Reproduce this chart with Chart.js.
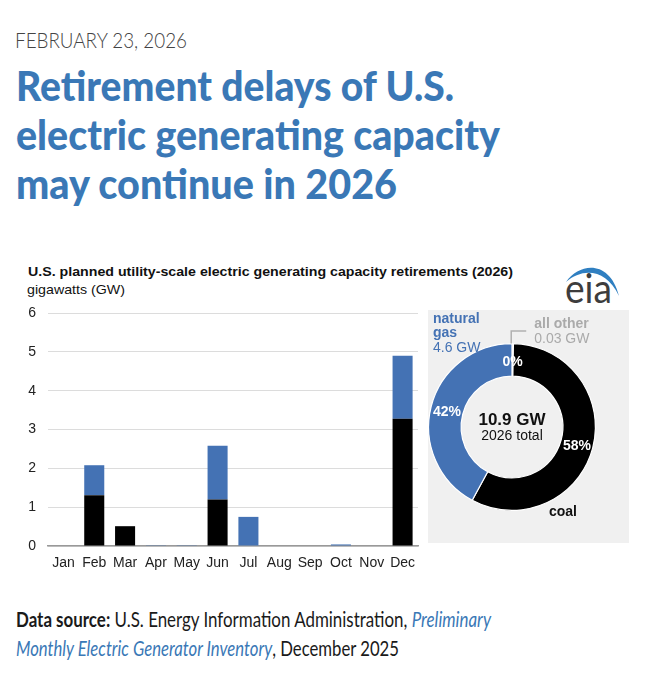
<!DOCTYPE html>
<html><head><meta charset="utf-8">
<script src="https://cdn.jsdelivr.net/npm/chart.js@4.4.1/dist/chart.umd.min.js"></script>
<style>
html,body{margin:0;padding:0;background:#fff;}
body{width:650px;height:680px;position:relative;overflow:hidden;font-family:"Liberation Sans",Arial,sans-serif;}
.t{position:absolute;white-space:nowrap;transform-origin:0 0;display:inline-block;}
.title{font:900 41px Lato,sans-serif;color:#3a78b6;line-height:49px;left:16px;}
.foot{font:400 21px Lato,sans-serif;color:#1a1a1a;line-height:29px;left:16px;}
.foot i{color:#3a78b6;}
#panel{position:absolute;left:428px;top:310px;width:201px;height:233px;background:#f0f0f0;}
canvas{position:absolute;}
</style></head><body>
<div class="t fit" data-w="172" style="left:15px;top:27px;font:300 22px Lato,sans-serif;color:#444;line-height:26px">FEBRUARY 23, 2026</div>
<div class="t title fit" data-w="438" style="top:61px">Retirement delays of U.S.</div>
<div class="t title fit" data-w="484" style="top:110px">electric generating capacity</div>
<div class="t title fit" data-w="381" style="top:159px">may continue in 2026</div>

<div class="t fit" data-w="485" style="left:28px;top:265px;font:700 12.5px 'Liberation Sans',Arial;line-height:15px;color:#111">U.S. planned utility-scale electric generating capacity retirements (2026)</div>
<div class="t fit" data-w="98" style="left:27px;top:282px;font:400 13.5px 'Liberation Sans',Arial;line-height:16px;color:#111">gigawatts (GW)</div>

<svg style="position:absolute;left:0;top:0" width="650" height="680">
<path d="M566 282 C 580 262, 610 260, 619 296 C 606 268, 582 268, 566 282 Z" fill="#2f7fc1"/>
</svg>
<div class="t fit" data-w="47" style="left:565px;top:264px;font:400 40px Lato,sans-serif;line-height:48px;color:#3d3d3d">eia</div>

<div id="panel"></div>
<canvas id="bar" width="425" height="285" style="left:0;top:300px;width:425px;height:285px"></canvas>
<canvas id="donut" width="215" height="250" style="left:420px;top:300px;width:215px;height:250px"></canvas>

<div class="t foot fit" data-w="475" style="top:604px"><b>Data source:</b> U.S. Energy Information Administration, <i>Preliminary</i></div>
<div class="t foot fit" data-w="383" style="top:633px"><i>Monthly Electric Generator Inventory</i>, December 2025</div>

<script>
const months = ['Jan','Feb','Mar','Apr','May','Jun','Jul','Aug','Sep','Oct','Nov','Dec'];
const coalGW = [0, 1.31, 0.51, 0, 0, 1.20, 0, 0, 0, 0, 0, 3.28];
const gasGW  = [0, 0.77, 0, 0.02, 0.02, 1.38, 0.75, 0, 0, 0.04, 0, 1.62];
const yMax = 6;
const yStep = 1;
const donutLabels = ['all other', 'coal', 'natural gas'];
const donutGW = [0.03, 6.30, 4.60];
const donutColors = ['#d4917b', '#000000', '#4472b4'];
const coalColor = '#000000';
const gasColor = '#4472b4';

document.querySelectorAll('.fit').forEach(el => {
  const w = +el.dataset.w;
  const a = el.getBoundingClientRect().width;
  if (a > 0) el.style.transform = 'scaleX(' + (w / a) + ')';
});

Chart.defaults.font.family = "'Liberation Sans', Arial, sans-serif";
Chart.defaults.color = '#222';

new Chart(document.getElementById('bar'), {
  type: 'bar',
  data: {
    labels: months,
    datasets: [
      {label: 'coal', data: coalGW, backgroundColor: coalColor},
      {label: 'natural gas', data: gasGW, backgroundColor: gasColor}
    ]
  },
  options: {
    responsive: false, animation: false,
    layout: {padding: {top: 13, right: 7, bottom: 9, left: 0}},
    plugins: {legend: {display: false}, tooltip: {enabled: false}},
    datasets: {bar: {barPercentage: 0.65, categoryPercentage: 1}},
    scales: {
      x: {
        stacked: true,
        grid: {display: false, drawTicks: false},
        border: {display: true, color: '#999', width: 1.5},
        ticks: {color: '#222', font: {size: 14}, padding: 9, maxRotation: 0, autoSkip: false},
        afterFit(s) { s.height = 30; s.paddingLeft = 0; s.paddingRight = 0; }
      },
      y: {
        stacked: true, min: 0, max: yMax,
        ticks: {stepSize: yStep, color: '#222', font: {size: 14}, padding: 12},
        grid: {color: '#dcdcdc', drawTicks: false},
        border: {display: false},
        afterFit(s) { s.width = 48; s.paddingTop = 0; s.paddingBottom = 0; }
      }
    }
  }
});

const donutLabelPlugin = {
  id: 'donutLabels',
  afterDraw(chart) {
    const ctx = chart.ctx;
    const meta = chart.getDatasetMeta(0);
    const arcs = meta.data;
    const vals = chart.data.datasets[0].data;
    const total = vals.reduce((a, b) => a + b, 0);
    const cx = arcs[0].x, cy = arcs[0].y;
    const R = arcs[0].outerRadius;
    ctx.save();
    ctx.fillStyle = '#fff';
    ctx.font = "bold 14px 'Liberation Sans', Arial";
    ctx.textAlign = 'center'; ctx.textBaseline = 'middle';
    arcs.forEach((a, i) => {
      const p = a.getProps(['startAngle', 'endAngle', 'innerRadius', 'outerRadius'], true);
      const m = (p.startAngle + p.endAngle) / 2;
      const r = (p.innerRadius + p.outerRadius) / 2;
      ctx.fillText(Math.round(vals[i] / total * 100) + '%', cx + Math.cos(m) * r, cy + Math.sin(m) * r + 2);
    });
    ctx.fillStyle = '#111';
    ctx.font = "bold 17px 'Liberation Sans', Arial";
    ctx.fillText(total.toFixed(1) + ' GW', cx, cy - 7);
    ctx.font = "14px 'Liberation Sans', Arial";
    ctx.fillText('2026 total', cx, cy + 9);
    ctx.textAlign = 'left'; ctx.textBaseline = 'alphabetic';
    ctx.fillStyle = gasColor;
    ctx.font = "bold 14px 'Liberation Sans', Arial";
    ctx.fillText('natural', cx - 79, cy - 104);
    ctx.fillText('gas', cx - 79, cy - 90);
    ctx.font = "14px 'Liberation Sans', Arial";
    ctx.fillText(vals[2].toFixed(1) + ' GW', cx - 79, cy - 75);
    const o = arcs[0].getProps(['startAngle', 'endAngle'], true);
    const om = (o.startAngle + o.endAngle) / 2;
    const lx = cx + Math.cos(om) * R - 1.5;
    ctx.strokeStyle = '#b0b0b0'; ctx.lineWidth = 1.5;
    ctx.beginPath();
    ctx.moveTo(lx, cy - R); ctx.lineTo(lx, cy - 96); ctx.lineTo(lx + 15, cy - 96);
    ctx.stroke();
    ctx.fillStyle = '#aaaaaa';
    ctx.font = "bold 14px 'Liberation Sans', Arial";
    ctx.fillText('all other', lx + 23, cy - 99);
    ctx.font = "14px 'Liberation Sans', Arial";
    ctx.fillText(vals[0].toFixed(2) + ' GW', lx + 23, cy - 84);
    ctx.fillStyle = '#111';
    ctx.font = "bold 14px 'Liberation Sans', Arial";
    ctx.fillText('coal', cx + 37, cy + 89);
    ctx.restore();
  }
};

new Chart(document.getElementById('donut'), {
  type: 'doughnut',
  data: {
    labels: donutLabels,
    datasets: [{data: donutGW, backgroundColor: donutColors, borderColor: '#fff', borderWidth: 1.2}]
  },
  options: {
    responsive: false, animation: false, cutout: '61%',
    layout: {padding: {left: 8, right: 39, top: 43, bottom: 39}},
    plugins: {legend: {display: false}, tooltip: {enabled: false}}
  },
  plugins: [donutLabelPlugin]
});
</script>
</body></html>
